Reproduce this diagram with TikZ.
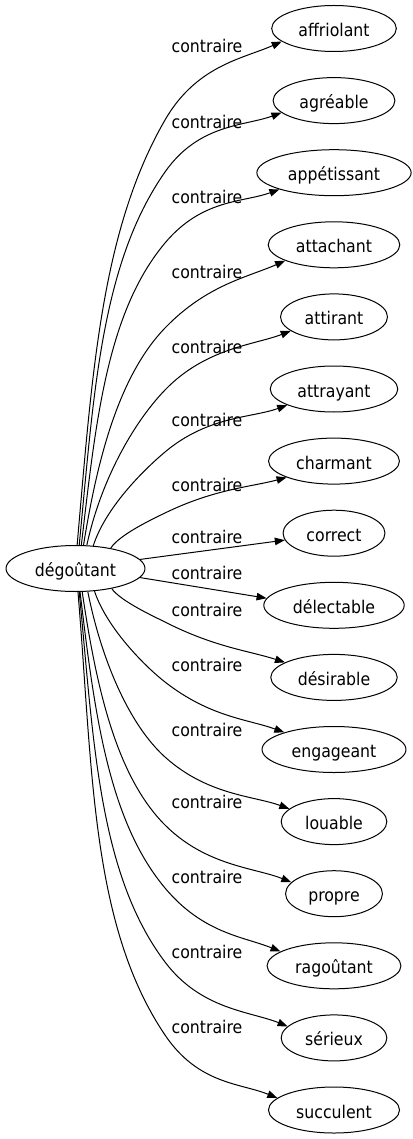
\documentclass[tikz,border=0pt]{standalone}
\usepackage{fontspec}
\setmainfont{DejaVu Sans Condensed}
\usetikzlibrary{shapes.geometric,arrows.meta}
\tikzset{
  every node/.style={font=\fontsize{17.5pt}{20pt}\selectfont, text height=16pt, text depth=0pt},
  tnode/.style={draw, ellipse, minimum height=46pt, inner xsep=8.5pt, inner ysep=0pt, line width=1pt},
  lbl/.style={anchor=base, inner sep=0pt},
  edge/.style={line width=1pt, -{Triangle[length=10pt,width=7.5pt]}},
}
\newcommand\cedge[9]{%
  \pgfmathsetmacro\dyS{#4-(#5)}%
  \pgfmathsetmacro\cax{0.17*(165-#3)}%
  \pgfmathsetmacro\cay{-0.4*\dyS}%
  \pgfmathsetmacro\Lone{0.3*abs(\dyS)}%
  \pgfmathsetmacro\Ltwo{0.45*veclen(117,#8-(#5))}%
  \pgfmathsetmacro\Lthree{0.3*veclen(117,#8-(#5))}%
  \draw[edge] (src.#2) .. controls +(\cax,\cay) and +({180-(#6)}:\Lone) .. (165,#5)
     .. controls +({-(#6)}:\Ltwo) and +({180-(#7)}:\Lthree) .. (#1.#9);
}
\begin{document}
\begin{tikzpicture}[x=1pt,y=-1pt]
\useasboundingbox (0,0) rectangle (412,1139);
\node[tnode] (src) at (75.5,568.5) {dégoûtant};
\node[tnode] (n1) at (334,28.5) {affriolant};
\node[tnode] (n2) at (334,100.6) {agréable};
\node[tnode] (n3) at (334,172.7) {appétissant};
\node[tnode] (n4) at (334,244.8) {attachant};
\node[tnode] (n5) at (334,316.9) {attirant};
\node[tnode] (n6) at (334,389.0) {attrayant};
\node[tnode] (n7) at (334,461.1) {charmant};
\node[tnode] (n8) at (334,533.2) {correct};
\node[tnode] (n9) at (334,605.3) {délectable};
\node[tnode] (n10) at (334,677.4) {désirable};
\node[tnode] (n11) at (334,749.5) {engageant};
\node[tnode] (n12) at (334,821.6) {louable};
\node[tnode] (n13) at (334,893.7) {propre};
\node[tnode] (n14) at (334,965.8) {ragoûtant};
\node[tnode] (n15) at (334,1037.9) {sérieux};
\node[tnode] (n16) at (334,1110.0) {succulent};
\foreach \i/\y in {1/52.5,2/128.2,3/203.2,4/278.2,5/353.2,6/426.5,7/491.5,8/543.2,9/579.5,10/616.5,11/671.5,12/736.5,13/808.2,14/883.2,15/958.2,16/1033.2}
  \node[lbl] (l\i) at (207,\y) {contraire};
\cedge{n1}{86}{77}{547}{120}{60}{24}{42}{194}
\cedge{n2}{81}{79}{547}{172}{55}{20}{113}{193}
\cedge{n3}{76}{81}{547}{243}{50}{20}{190}{197}
\cedge{n4}{71}{83}{547}{328}{46}{24}{262}{198}
\cedge{n5}{64}{86}{547}{390}{46}{21}{333}{198}
\cedge{n6}{52}{93}{547}{452}{40}{20}{407}{199}
\cedge{n7}{30}{112}{548}{513}{26}{15}{480}{199}
\draw[edge] (src.8) -- (n8.188);
\draw[edge] (src.352) -- (n9.174);
\cedge{n10}{331}{113}{590}{622}{-27}{-18}{662}{163}
\cedge{n11}{310}{95}{592}{682}{-38}{-20}{732}{161}
\cedge{n12}{298}{88}{592}{757}{-42}{-20}{807}{164}
\cedge{n13}{286}{84}{592}{825}{-45}{-22}{880}{165}
\cedge{n14}{281}{82}{592}{888}{-50}{-22}{950}{165}
\cedge{n15}{279}{80}{592}{962}{-53}{-22}{1025}{166}
\cedge{n16}{276}{78}{592}{1035}{-56}{-22}{1097}{168}
\end{tikzpicture}
\end{document}
